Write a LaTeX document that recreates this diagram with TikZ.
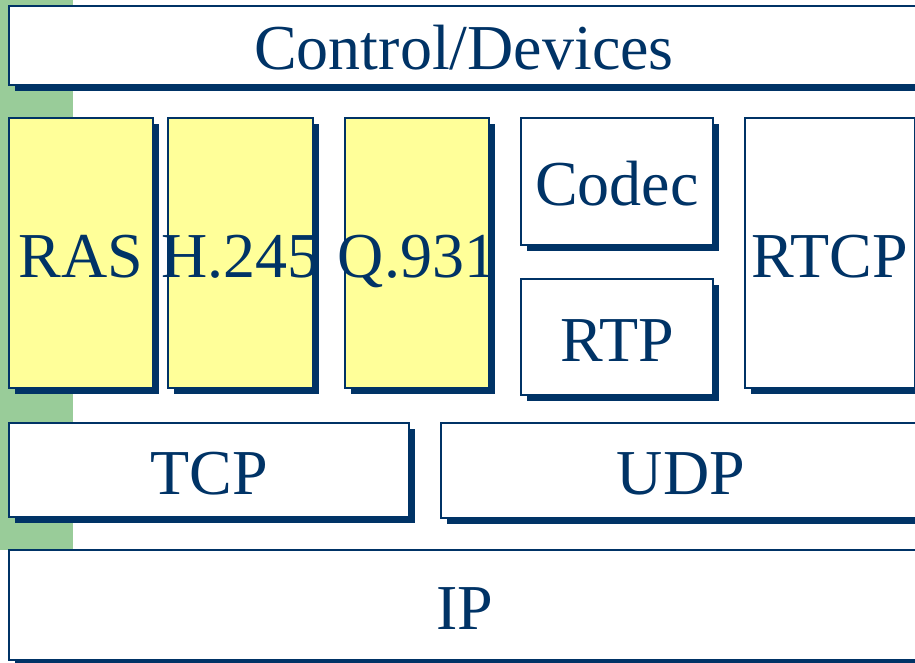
\documentclass[tikz,border=0pt]{standalone}
\usepackage{fontspec}
\setmainfont{Liberation Serif}
\usetikzlibrary{shadows}

\definecolor{navy}{RGB}{0,51,102}
\definecolor{paleyellow}{RGB}{255,255,153}
\definecolor{sage}{RGB}{153,204,153}

\tikzset{
  protobox/.style={draw=navy, line width=2.5pt, fill=white,
    anchor=north west, inner sep=0pt, outer sep=0pt,
    drop shadow={shadow xshift=6pt, shadow yshift=-6pt, fill=navy, opacity=1},
    label={[text=navy, inner sep=0pt, text height=48pt, text depth=0pt,
            font=\fontsize{64}{64}\selectfont]center:#1}},
  sigbox/.style={protobox=#1, fill=paleyellow}
}

\begin{document}
\begin{tikzpicture}[x=1pt,y=1pt]
                    \useasboundingbox (0,0) rectangle (915,-662);
                    \clip (0,0) rectangle (915,-662);
                    \fill[white] (0,0) rectangle (915,-662);
                    \fill[sage] (0,0) rectangle (73,-550);

                    % application layer
                    \node[protobox=Control/Devices, minimum width=910pt, minimum height=79pt] (ctrl) at (9,-6) {};

                    % signalling stacks
                    \node[sigbox=RAS, minimum width=144pt, minimum height=270pt] (ras) at (9,-118) {};
                    \node[sigbox=H.245, minimum width=145pt, minimum height=270pt] (h245) at (168,-118) {};
                    \node[sigbox=Q.931, minimum width=144pt, minimum height=270pt] (q931) at (345,-118) {};

                    % media stack
                    \node[protobox=Codec, minimum width=192pt, minimum height=127pt] (codec) at (521,-118) {};
                    \node[protobox=RTP, minimum width=192pt, minimum height=116pt] (rtp) at (521,-279) {};
                    \node[protobox=RTCP, minimum width=170pt, minimum height=270pt] (rtcp) at (745,-118) {};

                    % transport and network
                    \node[protobox=TCP, minimum width=400pt, minimum height=94pt] (tcp) at (9,-423) {};
                    \node[protobox=UDP, minimum width=480pt, minimum height=95pt] (udp) at (441,-423) {};
                    \node[protobox=IP, minimum width=912pt, minimum height=110pt] (ip) at (9,-550) {};
\end{tikzpicture}
\end{document}
